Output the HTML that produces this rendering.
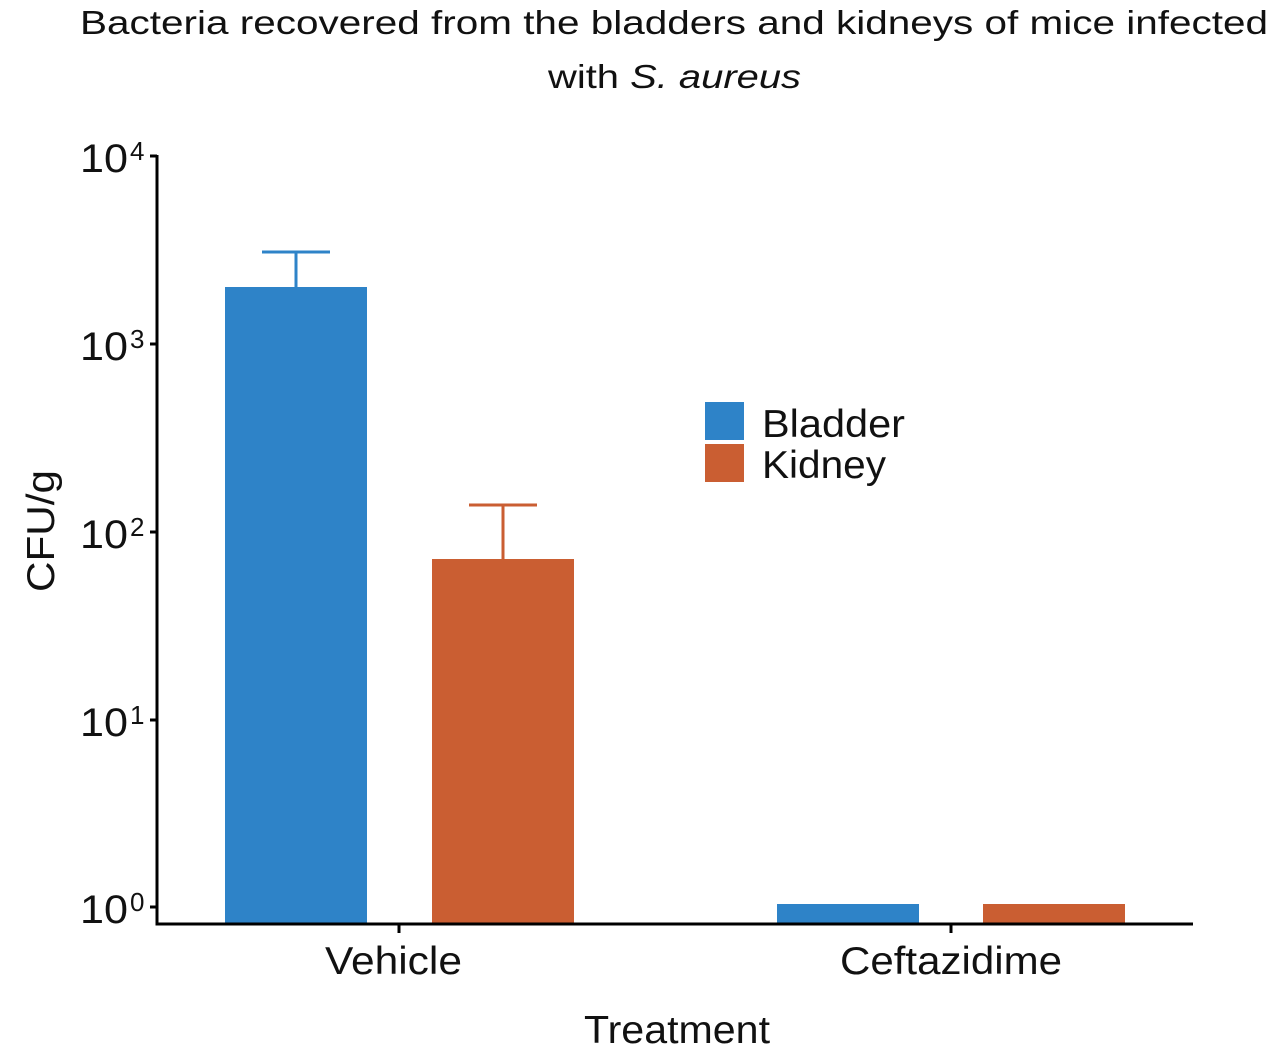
<!DOCTYPE html>
<html><head><style>
html,body{margin:0;padding:0;background:#fff;}
svg{display:block;font-family:"Liberation Sans",Arial,sans-serif;}
</style></head><body>
<svg width="1285" height="1061" viewBox="0 0 1285 1061" xmlns="http://www.w3.org/2000/svg">
<text x="80" y="34" font-size="33" fill="#111" textLength="1188" lengthAdjust="spacingAndGlyphs">Bacteria recovered from the bladders and kidneys of mice infected</text>
<text x="548" y="88" font-size="33" fill="#111" textLength="253" lengthAdjust="spacingAndGlyphs">with <tspan font-style="italic">S. aureus</tspan></text>
<!-- bars -->
<rect x="225" y="287" width="142" height="636" fill="#2E83C8"/>
<rect x="432" y="559" width="142" height="364" fill="#CA5E32"/>
<rect x="777" y="904" width="142" height="19" fill="#2E83C8"/>
<rect x="983" y="904" width="142" height="19" fill="#CA5E32"/>
<!-- error bars -->
<g stroke="#2E83C8" stroke-width="3"><line x1="296" y1="287" x2="296" y2="252"/><line x1="262" y1="252" x2="330" y2="252"/></g>
<g stroke="#CA5E32" stroke-width="3"><line x1="503" y1="559" x2="503" y2="505"/><line x1="469" y1="505" x2="537" y2="505"/></g>
<!-- axes -->
<g stroke="#000" stroke-width="3" fill="none">
<polyline points="157,155 157,924 1193,924"/>
<line x1="150" y1="156" x2="157" y2="156"/>
<line x1="150" y1="344" x2="157" y2="344"/>
<line x1="150" y1="532" x2="157" y2="532"/>
<line x1="150" y1="720" x2="157" y2="720"/>
<line x1="150" y1="907" x2="157" y2="907"/>
<line x1="399" y1="924" x2="399" y2="933"/>
<line x1="951" y1="924" x2="951" y2="933"/>
</g>
<g font-size="40" fill="#111">
<text x="80" y="172" textLength="48" lengthAdjust="spacingAndGlyphs">10</text><text x="130" y="160" font-size="26">4</text>
<text x="80" y="360" textLength="48" lengthAdjust="spacingAndGlyphs">10</text><text x="130" y="348" font-size="26">3</text>
<text x="80" y="548" textLength="48" lengthAdjust="spacingAndGlyphs">10</text><text x="130" y="536" font-size="26">2</text>
<text x="80" y="736" textLength="48" lengthAdjust="spacingAndGlyphs">10</text><text x="130" y="724" font-size="26">1</text>
<text x="80" y="923" textLength="48" lengthAdjust="spacingAndGlyphs">10</text><text x="130" y="911" font-size="26">0</text>
</g>
<g font-size="39" fill="#111">
<text x="325" y="974" textLength="137" lengthAdjust="spacingAndGlyphs">Vehicle</text>
<text x="840" y="974" textLength="222" lengthAdjust="spacingAndGlyphs">Ceftazidime</text>
<text x="584" y="1043" textLength="186" lengthAdjust="spacingAndGlyphs">Treatment</text>
<text transform="translate(54,592) rotate(-90)" textLength="122" lengthAdjust="spacingAndGlyphs">CFU/g</text>
</g>
<rect x="705" y="402" width="39" height="38" fill="#2E83C8"/>
<rect x="705" y="444" width="39" height="38" fill="#CA5E32"/>
<text x="762" y="437" font-size="39" fill="#111" textLength="143" lengthAdjust="spacingAndGlyphs">Bladder</text>
<text x="762" y="478" font-size="39" fill="#111" textLength="124" lengthAdjust="spacingAndGlyphs">Kidney</text>
</svg>
</body></html>
